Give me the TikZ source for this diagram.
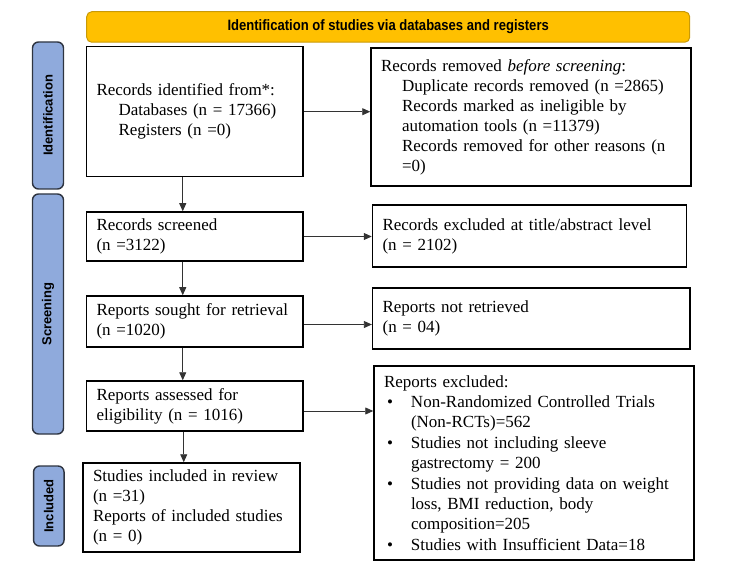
\documentclass[tikz,border=0pt]{standalone}
\usepackage{fontspec}
\setmainfont{Liberation Serif}
\newfontfamily\sidefont{Liberation Sans}
\newfontfamily\bannerfont{Liberation Sans}[FakeStretch=0.87]
\usetikzlibrary{arrows.meta,positioning}

\definecolor{banner}{HTML}{FFC000}
\definecolor{bannerline}{HTML}{C99A06}
\definecolor{phase}{HTML}{8FAADC}
\definecolor{phaseline}{HTML}{2E3440}

\tikzset{
  box/.style={draw, line width=1.5pt, align=left, inner xsep=10pt, inner ysep=0pt,
    font=\fontsize{17}{20}\selectfont},
  phasebox/.style={draw=phaseline, fill=phase, line width=1.4pt, rounded corners=6pt,
    rotate=90, inner sep=0pt, font=\sidefont\bfseries\fontsize{13}{15}\selectfont},
  flow/.style={-{Triangle[length=8pt,width=7pt]}, line width=0.8pt, draw=black!80},
}

\begin{document}
\begin{tikzpicture}[x=1pt,y=-1pt]
        \useasboundingbox (0,0) rectangle (750,580);

        % banner
        \node[draw=bannerline, fill=banner, line width=1pt, rounded corners=5pt,
          minimum width=603pt, minimum height=30.5pt,
          font=\bannerfont\bfseries\fontsize{15}{17}\selectfont] (title) at (388.2,27)
          {Identification of studies via databases and registers};

        % phases
        \node[phasebox, minimum width=147pt, minimum height=31pt] (ident) at (48,115.5) {Identification};
        \node[phasebox, minimum width=240pt, minimum height=31pt] (screen) at (48,314) {Screening};
        \node[phasebox, minimum width=80pt, minimum height=30.5pt] (incl) at (48.8,506) {Included};

        % identification
        \node[box, text width=196.5pt, minimum height=130pt] (A) at (194.75,111.7)
          {Records identified from*:\\
           \hspace*{22pt}Databases (n = 17366)\\
           \hspace*{22pt}Registers (n =0)};
        \node[box, text width=300pt, minimum height=138pt] (B) at (531,117)
          {Records removed \textit{before screening}:\\
           \hspace*{21pt}Duplicate records removed (n =2865)\\
           \hspace*{21pt}Records marked as ineligible by\\
           \hspace*{21pt}automation tools (n =11379)\\
           \hspace*{21pt}Records removed for other reasons (n\\
           \hspace*{21pt}=0)};

        % screening
        \node[box, text width=196.5pt, minimum height=49pt] (C) at (194.75,236.5)
          {Records screened\\(n =3122)};
        \node[box, text width=294pt, minimum height=62pt] (D) at (529.5,236)
          {Records excluded at title/abstract level\\(n = 2102)};
        \node[box, text width=196.5pt, minimum height=51pt] (E) at (194.75,321.5)
          {Reports sought for retrieval\\(n =1020)};
        \node[box, text width=297.4pt, minimum height=61pt] (F) at (531.3,318.5)
          {Reports not retrieved\\(n = 04)};
        \node[box, text width=196.5pt, minimum height=50pt] (G) at (194.75,406)
          {Reports assessed for\\eligibility (n = 1016)};
        \node[box, text width=300pt, minimum height=194pt] (H) at (534,463)
          {Reports excluded:\\
           \makebox[27pt][l]{\hspace{3pt}\textbullet}Non-Randomized Controlled Trials\\
           \hspace*{27pt}(Non-RCTs)=562\\[1pt]
           \makebox[27pt][l]{\hspace{3pt}\textbullet}Studies not including sleeve\\
           \hspace*{27pt}gastrectomy = 200\\[1pt]
           \makebox[27pt][l]{\hspace{3pt}\textbullet}Studies not providing data on weight\\
           \hspace*{27pt}loss, BMI reduction, body\\
           \hspace*{27pt}composition=205\\[1pt]
           \makebox[27pt][l]{\hspace{3pt}\textbullet}Studies with Insufficient Data=18};

        % included
        \node[box, text width=197pt, minimum height=89pt] (I) at (191.5,507.5)
          {Studies included in review\\(n =31)\\Reports of included studies\\(n = 0)};

        % arrows down
        \draw[flow] ([xshift=-12pt]A.south) -- ([xshift=-12pt]A.south |- C.north);
        \draw[flow] ([xshift=-12pt]C.south) -- ([xshift=-12pt]C.south |- E.north);
        \draw[flow] ([xshift=-12pt]E.south) -- ([xshift=-12pt]E.south |- G.north);
        \draw[flow] ([xshift=-11pt]G.south) -- ([xshift=-11pt]G.south |- I.north);

        % arrows right
        \draw[flow] (A.east) -- (A.east -| B.west);
        \draw[flow] (C.east) -- (C.east -| D.west);
        \draw[flow] ([yshift=-3pt]E.east) -- ([yshift=-3pt]E.east -| F.west);
        \draw[flow] ([yshift=-5pt]G.east) -- ([yshift=-5pt]G.east -| H.west);
\end{tikzpicture}
\end{document}
